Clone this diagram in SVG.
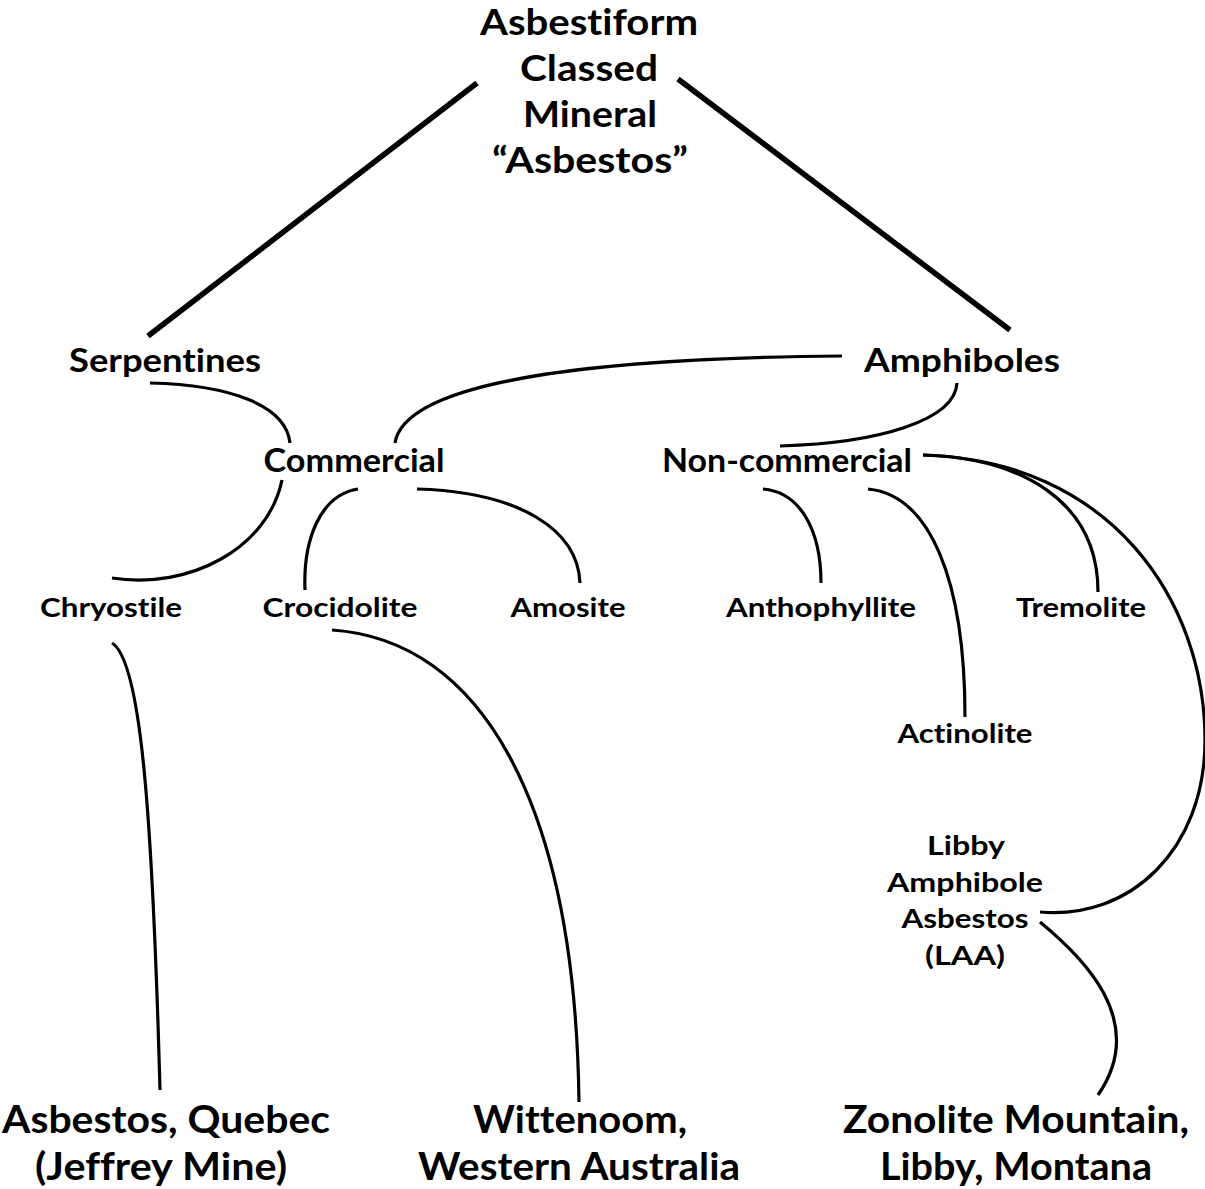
<svg xmlns="http://www.w3.org/2000/svg" width="1205" height="1189" viewBox="0 0 1205 1189">
<style>
text{font-family:"Lato","Liberation Sans",sans-serif;font-weight:700;fill:#000;text-anchor:middle;font-variant-ligatures:none}
.t{font-size:36px}
.m{font-size:33px}
.s{font-size:27px}
.b{font-size:38px}
.c{fill:none;stroke:#000;stroke-width:3.2;stroke-linecap:butt}
.k{fill:none;stroke:#000;stroke-width:5.5}
</style>
<rect width="1205" height="1189" fill="#fff"/>
<g id="connectors">
<path class="k" d="M477,83 L148,336"/>
<path class="k" d="M678,79 L1010,330"/>
<path class="c" d="M150,383 C230,385 286,405 290,443"/>
<path class="c" d="M282,480 C268,548 190,590 112,578"/>
<path class="c" d="M842,356 C600,358 405,380 395,443"/>
<path class="c" d="M358,489 C320,495 303,540 305,590"/>
<path class="c" d="M417,489 C520,492 578,530 580,583"/>
<path class="c" d="M957,383 C955,420 880,443 780,446"/>
<path class="c" d="M763,489 C800,492 821,530 821,583"/>
<path class="c" d="M868,489 C930,495 965,580 965,717"/>
<path class="c" d="M923,455 C1020,458 1098,500 1098,592"/>
<path class="c" d="M923,455 C1110,460 1205,600 1205,740 C1205,850 1130,920 1040,912"/>
<path class="c" d="M112,643 C140,660 152,800 160,1090"/>
<path class="c" d="M332,630 C480,640 575,800 579,1102"/>
<path class="c" d="M1040,922 C1080,955 1150,1020 1098,1095"/>
</g>
<g id="root"><text class="t" x="589" y="35" textLength="218" lengthAdjust="spacingAndGlyphs">Asbestiform</text><text class="t" x="589" y="81" textLength="138" lengthAdjust="spacingAndGlyphs">Classed</text><text class="t" x="590" y="127" textLength="134" lengthAdjust="spacingAndGlyphs">Mineral</text><text class="t" x="590" y="173" textLength="196" lengthAdjust="spacingAndGlyphs">“Asbestos”</text></g>
<g id="serpentines"><text class="m" x="165" y="372" textLength="192" lengthAdjust="spacingAndGlyphs">Serpentines</text></g>
<g id="amphiboles"><text class="m" x="962" y="372" textLength="196" lengthAdjust="spacingAndGlyphs">Amphiboles</text></g>
<g id="commercial"><text class="m" x="354" y="472" textLength="181" lengthAdjust="spacingAndGlyphs">Commercial</text></g>
<g id="noncommercial"><text class="m" x="787" y="472" textLength="250" lengthAdjust="spacingAndGlyphs">Non-commercial</text></g>
<g id="chryostile"><text class="s" x="111" y="617" textLength="142" lengthAdjust="spacingAndGlyphs">Chryostile</text></g>
<g id="crocidolite"><text class="s" x="340" y="617" textLength="155" lengthAdjust="spacingAndGlyphs">Crocidolite</text></g>
<g id="amosite"><text class="s" x="568" y="617" textLength="115" lengthAdjust="spacingAndGlyphs">Amosite</text></g>
<g id="anthophyllite"><text class="s" x="821" y="617" textLength="190" lengthAdjust="spacingAndGlyphs">Anthophyllite</text></g>
<g id="tremolite"><text class="s" x="1081" y="617" textLength="130" lengthAdjust="spacingAndGlyphs">Tremolite</text></g>
<g id="actinolite"><text class="s" x="965" y="743" textLength="135" lengthAdjust="spacingAndGlyphs">Actinolite</text></g>
<g id="laa"><text class="s" x="966" y="855" textLength="78" lengthAdjust="spacingAndGlyphs">Libby</text><text class="s" x="965" y="892" textLength="156" lengthAdjust="spacingAndGlyphs">Amphibole</text><text class="s" x="965" y="928" textLength="127" lengthAdjust="spacingAndGlyphs">Asbestos</text><text class="s" x="965" y="965" textLength="80" lengthAdjust="spacingAndGlyphs">(LAA)</text></g>
<g id="quebec"><text class="b" x="166" y="1133" textLength="328" lengthAdjust="spacingAndGlyphs">Asbestos, Quebec</text><text class="b" x="161" y="1180" textLength="252" lengthAdjust="spacingAndGlyphs">(Jeffrey Mine)</text></g>
<g id="wittenoom"><text class="b" x="580" y="1133" textLength="214" lengthAdjust="spacingAndGlyphs">Wittenoom,</text><text class="b" x="579" y="1180" textLength="322" lengthAdjust="spacingAndGlyphs">Western Australia</text></g>
<g id="zonolite"><text class="b" x="1016" y="1133" textLength="346" lengthAdjust="spacingAndGlyphs">Zonolite Mountain,</text><text class="b" x="1016" y="1180" textLength="272" lengthAdjust="spacingAndGlyphs">Libby, Montana</text></g>
</svg>
